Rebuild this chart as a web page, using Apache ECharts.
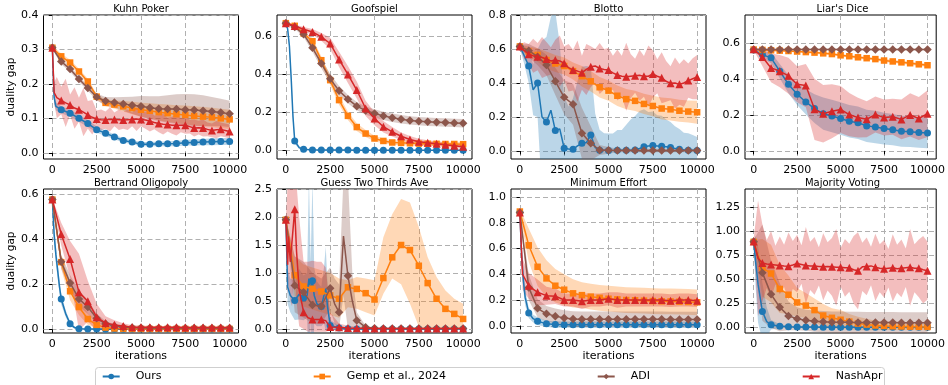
<!DOCTYPE html>
<html>
<head>
<meta charset="utf-8">
<script src="https://cdn.jsdelivr.net/npm/echarts@6/dist/echarts.min.js"></script>
<style>
  html, body { margin: 0; padding: 0; background: #fff; }
  #chart { width: 948px; height: 385px; }
</style>
</head>
<body>
<div id="chart"></div>
<script>
// ---- iteration grids ----
const ITER = [0,500,1000,1500,2000,2500,3000,3500,4000,4500,5000,5500,6000,6500,7000,7500,8000,8500,9000,9500,10000];
const X250 = [0,250,500,750,1000,1250,1500,1750,2000,2250,2500,2750,3000,3250,3500,3750,4000,4250,4500,4750,5000,5250,5500,5750,6000,6250,6500,6750,7000,7250,7500,7750,8000,8250,8500,8750,9000,9250,9500,9750,10000];

const TITLES = ['Kuhn Poker', 'Goofspiel', 'Blotto', "Liar's Dice", 'Bertrand Oligopoly', 'Guess Two Thirds Ave', 'Minimum Effort', 'Majority Voting'];
const SERIES_NAMES = ['Ours', 'Gemp et al., 2024', 'ADI', 'NashApr'];
const X_TICKS = [0, 2500, 5000, 7500, 10000];
const Y_TICKS = [
  [0, 0.1, 0.2, 0.3, 0.4],
  [0, 0.2, 0.4, 0.6],
  [0, 0.2, 0.4, 0.6, 0.8],
  [0, 0.2, 0.4, 0.6],
  [0, 0.2, 0.4, 0.6],
  [0, 0.5, 1.0, 1.5, 2.0, 2.5],
  [0, 0.2, 0.4, 0.6, 0.8, 1.0],
  [0, 0.25, 0.5, 0.75, 1.0, 1.25]
];
const Y_DECIMALS = [1, 1, 1, 1, 1, 1, 1, 2];

// ---- Kuhn Poker ----
const KUHN_OURS_X = [0, 100, 200].concat(ITER.slice(1));
const kuhnOurs   = [0.305,0.16,0.135,0.125,0.115,0.1,0.085,0.067,0.057,0.046,0.036,0.031,0.025,0.025,0.026,0.026,0.027,0.029,0.03,0.031,0.032,0.033,0.033];
const kuhnOursSd = [0.003,0.02,0.012,0.01,0.01,0.01,0.01,0.009,0.008,0.007,0.006,0.006,0.006,0.006,0.007,0.007,0.008,0.008,0.009,0.009,0.01,0.01,0.01];
const kuhnGemp   = [0.305,0.28,0.262,0.236,0.207,0.163,0.145,0.14,0.135,0.13,0.125,0.122,0.118,0.115,0.112,0.11,0.107,0.105,0.103,0.1,0.097];
const kuhnGempSd = [0.005,0.008,0.008,0.008,0.008,0.008,0.01,0.012,0.015,0.018,0.02,0.022,0.024,0.025,0.026,0.027,0.028,0.028,0.028,0.028,0.028];
const kuhnAdi    = [0.305,0.265,0.243,0.214,0.188,0.162,0.15,0.146,0.142,0.138,0.135,0.131,0.128,0.127,0.127,0.125,0.124,0.122,0.12,0.117,0.113];
const kuhnAdiSd  = [0.005,0.008,0.008,0.008,0.008,0.01,0.012,0.015,0.02,0.025,0.03,0.033,0.036,0.04,0.043,0.046,0.046,0.045,0.042,0.04,0.038];
const KUHN_NASH_X = [0, 100].concat(X250.slice(1));
const kuhnNash   = [0.305,0.175,0.16,0.152,0.145,0.139,0.13,0.125,0.118,0.11,0.103,0.098,0.096,0.095,0.097,0.097,0.096,0.095,0.096,0.097,0.098,0.097,0.095,0.092,0.088,0.085,0.083,0.082,0.08,0.08,0.08,0.08,0.076,0.072,0.073,0.072,0.068,0.065,0.067,0.068,0.065,0.062];
const kuhnNashSd = [0.003,0.03,0.06,0.04,0.07,0.03,0.06,0.035,0.07,0.04,0.05,0.025,0.03,0.025,0.035,0.02,0.03,0.025,0.03,0.02,0.035,0.02,0.025,0.03,0.02,0.025,0.03,0.02,0.025,0.03,0.02,0.025,0.02,0.025,0.02,0.025,0.02,0.02,0.025,0.02,0.02,0.02];

// ---- Goofspiel ----
const GOOF_OURS_X = [0, 100, 200, 300, 400, 500, 750, 1000].concat(ITER.slice(3));
const goofOurs   = [0.67,0.64,0.55,0.38,0.18,0.05,0.015,0.006,0.003,0.002,0.002,0.002,0.002,0.001,0.001,0.001,0.001,0.001,0.001,0.001,0.001,0.001,0.001,0.001,0.001,0.001];
const goofOursSd = [0.005,0.01,0.02,0.03,0.03,0.015,0.008,0.004,0.002,0.002,0.002,0.002,0.002,0.002,0.002,0.002,0.002,0.002,0.002,0.002,0.002,0.002,0.002,0.002,0.002,0.002];
const goofGemp   = [0.67,0.656,0.616,0.575,0.475,0.37,0.265,0.182,0.123,0.089,0.063,0.05,0.042,0.04,0.038,0.036,0.035,0.035,0.034,0.034,0.033];
const goofGempSd = [0.005,0.008,0.012,0.015,0.02,0.025,0.025,0.022,0.02,0.018,0.015,0.013,0.012,0.012,0.012,0.012,0.012,0.012,0.012,0.012,0.012];
const goofAdi    = [0.67,0.65,0.612,0.54,0.458,0.377,0.314,0.27,0.233,0.21,0.195,0.182,0.172,0.164,0.158,0.154,0.151,0.149,0.147,0.145,0.143];
const goofAdiSd  = [0.005,0.01,0.015,0.02,0.025,0.025,0.025,0.022,0.022,0.022,0.022,0.022,0.022,0.022,0.022,0.022,0.022,0.022,0.022,0.022,0.022];
const goofNash   = [0.67,0.655,0.638,0.624,0.598,0.563,0.479,0.4,0.318,0.221,0.168,0.125,0.098,0.075,0.058,0.046,0.04,0.035,0.03,0.025,0.02];
const goofNashSd = [0.005,0.008,0.012,0.015,0.02,0.03,0.04,0.045,0.045,0.04,0.035,0.03,0.025,0.02,0.018,0.015,0.014,0.013,0.012,0.012,0.012];

// ---- Blotto ----
const blotOurs   = [0.615,0.56,0.5,0.36,0.4,0.2,0.17,0.24,0.12,0.13,0.016,0.012,0.01,0.03,0.045,0.05,0.094,0.02,0.005,0.004,0.003,0.003,0.004,0.004,0.005,0.005,0.006,0.015,0.025,0.03,0.032,0.03,0.028,0.025,0.02,0.015,0.01,0.007,0.005,0.004,0.003];
const blotOursSd = [0.01,0.05,0.1,0.15,0.2,0.45,0.5,0.55,0.7,0.5,0.3,0.25,0.3,0.38,0.45,0.45,0.4,0.2,0.12,0.1,0.1,0.1,0.12,0.12,0.15,0.18,0.2,0.22,0.22,0.2,0.2,0.18,0.18,0.16,0.15,0.13,0.12,0.1,0.1,0.09,0.08];
const blotGemp   = [0.615,0.585,0.565,0.535,0.515,0.5,0.47,0.44,0.41,0.375,0.355,0.325,0.305,0.295,0.277,0.265,0.25,0.245,0.237,0.232,0.228];
const blotGempSd = [0.01,0.03,0.04,0.05,0.05,0.05,0.05,0.06,0.06,0.06,0.06,0.06,0.06,0.06,0.06,0.06,0.065,0.065,0.065,0.065,0.068];
const blotAdi    = [0.615,0.59,0.555,0.506,0.41,0.316,0.275,0.104,0.045,0.006,0.004,0.003,0.003,0.003,0.003,0.003,0.003,0.003,0.003,0.003,0.003];
const blotAdiSd  = [0.01,0.04,0.05,0.06,0.08,0.1,0.12,0.15,0.1,0.03,0.02,0.01,0.01,0.01,0.01,0.01,0.01,0.01,0.01,0.01,0.01];
const blotNash   = [0.615,0.59,0.569,0.56,0.555,0.55,0.541,0.53,0.535,0.53,0.516,0.49,0.476,0.47,0.461,0.48,0.496,0.5,0.486,0.48,0.476,0.46,0.447,0.44,0.437,0.44,0.443,0.445,0.439,0.44,0.453,0.44,0.431,0.41,0.398,0.4,0.392,0.4,0.414,0.425,0.435];
const blotNashSd = [0.01,0.05,0.06,0.1,0.08,0.12,0.1,0.08,0.12,0.15,0.1,0.14,0.12,0.18,0.1,0.15,0.12,0.1,0.15,0.12,0.13,0.1,0.15,0.12,0.2,0.13,0.1,0.15,0.12,0.18,0.14,0.1,0.15,0.12,0.1,0.15,0.12,0.14,0.1,0.12,0.13];

// ---- Liar's Dice ----
const liarOurs   = [0.56,0.535,0.517,0.443,0.37,0.315,0.272,0.235,0.207,0.194,0.18,0.165,0.156,0.139,0.133,0.124,0.118,0.109,0.106,0.102,0.1];
const liarOursSd = [0.005,0.02,0.03,0.04,0.05,0.06,0.07,0.08,0.09,0.09,0.09,0.09,0.09,0.09,0.09,0.088,0.087,0.086,0.085,0.085,0.085];
const liarGemp   = [0.563,0.561,0.559,0.557,0.555,0.552,0.549,0.546,0.542,0.538,0.531,0.526,0.52,0.515,0.51,0.502,0.497,0.492,0.487,0.481,0.476];
const liarGempSd = [0.003,0.004,0.005,0.005,0.006,0.006,0.006,0.007,0.007,0.007,0.007,0.008,0.008,0.008,0.008,0.008,0.009,0.009,0.009,0.009,0.009];
const liarAdi    = [0.563,0.563,0.563,0.563,0.563,0.563,0.563,0.563,0.563,0.563,0.563,0.563,0.563,0.563,0.563,0.563,0.563,0.563,0.563,0.563,0.563];
const liarAdiSd  = [0.004,0.004,0.004,0.004,0.004,0.004,0.004,0.004,0.004,0.004,0.004,0.004,0.004,0.004,0.004,0.004,0.004,0.004,0.004,0.004,0.004];
const liarNash   = [0.565,0.522,0.461,0.443,0.417,0.37,0.363,0.231,0.206,0.22,0.23,0.202,0.185,0.176,0.202,0.185,0.19,0.175,0.2,0.18,0.207];
const liarNashSd = [0.005,0.05,0.08,0.09,0.1,0.1,0.12,0.17,0.16,0.15,0.13,0.12,0.11,0.1,0.1,0.1,0.1,0.11,0.12,0.12,0.13];

// ---- Bertrand Oligopoly ----
const BERT_OURS_X = [0, 100, 200, 300, 400, 500, 750, 1000, 1250, 1500].concat(ITER.slice(4));
const bertOurs   = [0.575,0.42,0.33,0.26,0.19,0.135,0.07,0.025,0.008,0.003,0.002,0.002,0.001,0.001,0.001,0.001,0.001,0.001,0.001,0.001,0.001,0.001,0.001,0.001,0.001,0.001,0.001];
const bertOursSd = [0.005,0.04,0.04,0.035,0.03,0.025,0.015,0.01,0.005,0.003,0.002,0.002,0.002,0.002,0.002,0.002,0.002,0.002,0.002,0.002,0.002,0.002,0.002,0.002,0.002,0.002,0.002];
const bertGemp   = [0.575,0.298,0.169,0.099,0.046,0.02,0.008,0.004,0.003,0.002,0.002,0.002,0.002,0.002,0.002,0.002,0.002,0.002,0.002,0.002,0.002];
const bertGempSd = [0.005,0.03,0.04,0.035,0.025,0.015,0.008,0.004,0.003,0.002,0.002,0.002,0.002,0.002,0.002,0.002,0.002,0.002,0.002,0.002,0.002];
const bertAdi    = [0.575,0.3,0.206,0.135,0.099,0.049,0.025,0.015,0.01,0.008,0.007,0.006,0.006,0.006,0.006,0.006,0.006,0.006,0.006,0.006,0.006];
const bertAdiSd  = [0.005,0.03,0.035,0.035,0.03,0.02,0.012,0.008,0.006,0.005,0.004,0.004,0.004,0.004,0.004,0.004,0.004,0.004,0.004,0.004,0.004];
const bertNash   = [0.575,0.422,0.312,0.165,0.125,0.054,0.028,0.02,0.015,0.01,0.01,0.009,0.009,0.009,0.009,0.008,0.008,0.008,0.008,0.008,0.008];
const bertNashSd = [0.005,0.05,0.08,0.17,0.09,0.06,0.03,0.02,0.012,0.008,0.007,0.006,0.006,0.006,0.006,0.006,0.006,0.006,0.006,0.006,0.006];

// ---- Guess Two Thirds Ave ----
const GUESS_OURS_X = [0, 100, 250, 500, 750, 1000, 1200, 1300, 1400, 1500, 1600, 1750, 2000, 2150, 2250, 2350, 2500, 3000, 3500].concat(ITER.slice(8));
const guessOurs   = [1.95,0.75,0.6,0.51,0.62,0.556,0.6,0.9,0.7,0.86,0.6,0.45,0.4,0.6,0.72,0.4,0.065,0.02,0.005,0.002,0.002,0.002,0.002,0.002,0.002,0.002,0.002,0.002,0.002,0.002,0.002,0.002];
const guessOursSd = [0.02,0.3,0.3,0.35,0.45,0.4,0.4,1.8,0.5,1.8,0.5,0.4,0.35,0.5,0.75,0.4,0.1,0.03,0.01,0.003,0.003,0.003,0.003,0.003,0.003,0.003,0.003,0.003,0.003,0.003,0.003,0.003];
const guessGemp   = [1.95,0.96,0.76,0.72,0.67,0.6,0.54,0.745,0.716,0.64,0.527,0.91,1.28,1.5,1.41,1.13,0.82,0.54,0.36,0.27,0.18];
const guessGempLo = [1.93,0.6,0.4,0.35,0.3,0.25,0.2,0.39,0.36,0.3,0.24,0.63,0.9,0.8,0.45,0.04,0.0,0.0,0.0,0.02,0.02];
const guessGempHi = [1.97,1.3,1.15,1.1,1.05,1.0,0.9,0.87,0.93,0.9,0.87,1.64,2.05,2.32,2.26,1.82,1.28,0.93,0.69,0.54,0.45];
const GUESS_ADI_X = [0, 500, 1000, 1500, 2000, 2500, 2750, 3000, 3250, 3500, 3750, 4000, 4500].concat(ITER.slice(10));
const guessAdi    = [1.95,0.775,0.657,0.43,0.408,0.728,0.45,0.3,1.66,0.95,0.5,0.154,0.03,0.012,0.009,0.008,0.008,0.008,0.008,0.008,0.008,0.008,0.008,0.008];
const guessAdiLo  = [1.93,0.3,0.2,0.1,0.1,0.35,0.1,0.0,0.6,0.0,0.0,0.02,0.005,0.002,0.002,0.002,0.002,0.002,0.002,0.002,0.002,0.002,0.002,0.002];
const guessAdiHi  = [1.97,1.3,1.2,1.0,0.9,1.1,0.9,0.8,2.7,2.7,1.0,0.3,0.06,0.025,0.015,0.015,0.015,0.015,0.015,0.015,0.015,0.015,0.015,0.015];
const GUESS_NASH_X = [0, 100, 150, 250, 350, 500, 600, 750, 1000, 1250, 1500, 1750, 2000, 2250, 2500].concat(ITER.slice(6));
const guessNash   = [1.95,1.15,1.65,1.2,1.2,2.14,1.4,0.7,0.3,0.2,0.17,0.17,0.17,0.15,0.035,0.03,0.02,0.015,0.01,0.008,0.008,0.008,0.008,0.008,0.008,0.008,0.008,0.008,0.008,0.008];
const guessNashLo = [1.93,0.6,0.8,0.5,0.4,1.1,0.5,0.05,0.0,-0.05,-0.05,-0.05,-0.05,-0.05,-0.02,-0.01,-0.01,-0.005,-0.005,-0.005,-0.005,-0.005,-0.005,-0.005,-0.005,-0.005,-0.005,-0.005,-0.005,-0.005];
const guessNashHi = [1.97,2.6,2.6,2.6,2.6,2.6,2.6,2.0,1.2,1.2,1.22,1.2,1.2,1.1,0.3,0.1,0.06,0.04,0.03,0.02,0.02,0.02,0.02,0.02,0.02,0.02,0.02,0.02,0.02,0.02];

// ---- Minimum Effort ----
const MIN_OURS_X = [0, 100, 200, 300, 500, 750, 1000, 1500, 2000].concat(ITER.slice(5));
const minOurs    = [0.88,0.55,0.35,0.22,0.1,0.055,0.036,0.015,0.01,0.009,0.009,0.009,0.008,0.008,0.008,0.008,0.008,0.008,0.008,0.008,0.008,0.008,0.008,0.008,0.008];
const minOursSd  = [0.01,0.08,0.08,0.06,0.04,0.03,0.03,0.025,0.025,0.025,0.025,0.025,0.025,0.025,0.025,0.025,0.025,0.025,0.025,0.025,0.025,0.025,0.025,0.025,0.025];
const minGemp    = [0.887,0.625,0.458,0.368,0.311,0.28,0.252,0.238,0.226,0.217,0.21,0.205,0.2,0.198,0.195,0.192,0.19,0.189,0.187,0.185,0.182];
const minGempSd  = [0.02,0.13,0.15,0.14,0.13,0.12,0.11,0.1,0.1,0.1,0.1,0.1,0.1,0.1,0.1,0.1,0.1,0.1,0.1,0.1,0.1];
const minAdi     = [0.88,0.298,0.136,0.093,0.075,0.06,0.052,0.05,0.05,0.05,0.05,0.05,0.05,0.05,0.05,0.05,0.05,0.049,0.049,0.049,0.049];
const minAdiSd   = [0.02,0.1,0.07,0.06,0.06,0.06,0.06,0.06,0.06,0.06,0.06,0.06,0.06,0.06,0.06,0.06,0.06,0.06,0.06,0.06,0.06];
const MIN_NASH_X = [0, 150].concat(ITER.slice(1));
const minNash    = [0.88,0.4,0.31,0.26,0.234,0.23,0.2,0.2,0.19,0.2,0.2,0.21,0.2,0.2,0.2,0.2,0.2,0.2,0.195,0.2,0.2,0.195];
const minNashSd  = [0.02,0.12,0.1,0.1,0.07,0.06,0.05,0.05,0.06,0.05,0.05,0.05,0.06,0.05,0.05,0.05,0.05,0.05,0.05,0.05,0.05,0.05];

// ---- Majority Voting ----
const MAJ_OURS_X = [0, 100, 250, 500, 750, 1000].concat(ITER.slice(3));
const majOurs    = [0.89,0.7,0.45,0.165,0.06,0.028,0.012,0.007,0.005,0.004,0.004,0.003,0.003,0.003,0.003,0.003,0.002,0.002,0.002,0.002,0.002,0.002,0.002,0.002];
const majOursSd  = [0.01,0.25,0.4,0.3,0.15,0.05,0.02,0.01,0.01,0.01,0.008,0.008,0.008,0.008,0.008,0.008,0.008,0.008,0.008,0.008,0.008,0.008,0.008,0.008];
const majGemp    = [0.89,0.62,0.561,0.4,0.34,0.26,0.227,0.18,0.124,0.1,0.08,0.06,0.04,0.03,0.02,0.015,0.012,0.01,0.008,0.006,0.005];
const majGempSd  = [0.02,0.3,0.3,0.25,0.2,0.15,0.13,0.12,0.12,0.1,0.1,0.08,0.07,0.06,0.05,0.04,0.04,0.035,0.03,0.03,0.03];
const majAdi     = [0.89,0.57,0.344,0.21,0.12,0.09,0.075,0.065,0.06,0.055,0.055,0.053,0.052,0.051,0.05,0.05,0.05,0.049,0.049,0.048,0.048];
const majAdiSd   = [0.02,0.5,0.35,0.25,0.15,0.12,0.11,0.11,0.11,0.11,0.11,0.11,0.11,0.11,0.11,0.11,0.11,0.11,0.11,0.11,0.11];
const majNash    = [0.895,0.72,0.671,0.66,0.654,0.65,0.645,0.64,0.637,0.65,0.665,0.655,0.645,0.64,0.64,0.635,0.63,0.635,0.63,0.625,0.625,0.62,0.62,0.6,0.59,0.63,0.635,0.64,0.625,0.615,0.61,0.615,0.62,0.61,0.615,0.62,0.625,0.615,0.615,0.6,0.59];
const majNashSd  = [0.03,0.6,0.4,0.25,0.35,0.2,0.3,0.22,0.35,0.25,0.3,0.2,0.4,0.25,0.3,0.2,0.35,0.25,0.3,0.4,0.2,0.3,0.25,0.35,0.4,0.25,0.3,0.2,0.35,0.25,0.3,0.2,0.35,0.25,0.3,0.2,0.4,0.25,0.3,0.35,0.3];

// ---- look ----
const COLORS = ['#1f77b4', '#ff7f0e', '#8c564b', '#d62728'];
const SYMBOLS = ['circle', 'rect', 'diamond', 'triangle'];
const SYMBOL_SIZES = [7, 6.5, 8.5, 8];
const FONT = '"DejaVu Sans", "Liberation Sans", sans-serif';

const COL_LEFT = [43.5, 277, 511, 745];
const ROW_TOP = [15, 189];
const GRID_W = 195, GRID_H = 144;
const Y_RANGE = [[-0.018, 0.4], [-0.045, 0.713], [-0.047, 0.8], [-0.045, 0.755],
                 [-0.016, 0.622], [-0.071, 2.5], [-0.056, 1.062], [-0.058, 1.44]];

function sdBand(mean, sd) {
  return { lo: mean.map((v, i) => v - sd[i]), hi: mean.map((v, i) => v + sd[i]) };
}

// per panel: [x, mean, band] for Ours, Gemp, ADI, NashApr
const PANELS = [
  [[KUHN_OURS_X, kuhnOurs, sdBand(kuhnOurs, kuhnOursSd)], [ITER, kuhnGemp, sdBand(kuhnGemp, kuhnGempSd)],
   [ITER, kuhnAdi, sdBand(kuhnAdi, kuhnAdiSd)], [KUHN_NASH_X, kuhnNash, sdBand(kuhnNash, kuhnNashSd)]],
  [[GOOF_OURS_X, goofOurs, sdBand(goofOurs, goofOursSd)], [ITER, goofGemp, sdBand(goofGemp, goofGempSd)],
   [ITER, goofAdi, sdBand(goofAdi, goofAdiSd)], [ITER, goofNash, sdBand(goofNash, goofNashSd)]],
  [[X250, blotOurs, sdBand(blotOurs, blotOursSd)], [ITER, blotGemp, sdBand(blotGemp, blotGempSd)],
   [ITER, blotAdi, sdBand(blotAdi, blotAdiSd)], [X250, blotNash, sdBand(blotNash, blotNashSd)]],
  [[ITER, liarOurs, sdBand(liarOurs, liarOursSd)], [ITER, liarGemp, sdBand(liarGemp, liarGempSd)],
   [ITER, liarAdi, sdBand(liarAdi, liarAdiSd)], [ITER, liarNash, sdBand(liarNash, liarNashSd)]],
  [[BERT_OURS_X, bertOurs, sdBand(bertOurs, bertOursSd)], [ITER, bertGemp, sdBand(bertGemp, bertGempSd)],
   [ITER, bertAdi, sdBand(bertAdi, bertAdiSd)], [ITER, bertNash, sdBand(bertNash, bertNashSd)]],
  [[GUESS_OURS_X, guessOurs, sdBand(guessOurs, guessOursSd)], [ITER, guessGemp, { lo: guessGempLo, hi: guessGempHi }],
   [GUESS_ADI_X, guessAdi, { lo: guessAdiLo, hi: guessAdiHi }], [GUESS_NASH_X, guessNash, { lo: guessNashLo, hi: guessNashHi }]],
  [[MIN_OURS_X, minOurs, sdBand(minOurs, minOursSd)], [ITER, minGemp, sdBand(minGemp, minGempSd)],
   [ITER, minAdi, sdBand(minAdi, minAdiSd)], [MIN_NASH_X, minNash, sdBand(minNash, minNashSd)]],
  [[MAJ_OURS_X, majOurs, sdBand(majOurs, majOursSd)], [ITER, majGemp, sdBand(majGemp, majGempSd)],
   [ITER, majAdi, sdBand(majAdi, majAdiSd)], [X250, majNash, sdBand(majNash, majNashSd)]]
];

const grids = [], xAxes = [], yAxes = [], series = [], graphics = [];
const splitStyle = { show: true, lineStyle: { color: '#b0b0b0', width: 1, type: [5, 3] } };

PANELS.forEach((panel, gi) => {
  const col = gi % 4, row = Math.floor(gi / 4);
  grids.push({
    left: COL_LEFT[col], top: ROW_TOP[row], width: GRID_W, height: GRID_H,
    show: true, borderColor: '#000', borderWidth: 1, backgroundColor: 'transparent'
  });
  xAxes.push({
    type: 'value', gridIndex: gi, min: -500, max: 10500,
    axisLine: { show: false },
    axisTick: { show: true, customValues: X_TICKS, length: 3.5, lineStyle: { color: '#000' } },
    axisLabel: { customValues: X_TICKS, color: '#000', fontSize: 11, fontFamily: FONT, margin: 6,
                 formatter: v => String(v) },
    splitLine: splitStyle,
    name: row === 1 ? 'iterations' : '', nameLocation: 'middle', nameGap: 18,
    nameTextStyle: { color: '#000', fontSize: 11, fontFamily: FONT }
  });
  const dec = Y_DECIMALS[gi];
  yAxes.push({
    type: 'value', gridIndex: gi, min: Y_RANGE[gi][0], max: Y_RANGE[gi][1],
    axisLine: { show: false },
    axisTick: { show: true, customValues: Y_TICKS[gi], length: 3.5, lineStyle: { color: '#000' } },
    axisLabel: { customValues: Y_TICKS[gi], color: '#000', fontSize: 11, fontFamily: FONT, margin: 5,
                 formatter: v => Number(v).toFixed(dec) },
    splitLine: splitStyle,
    name: col === 0 ? 'duality gap' : '', nameLocation: 'middle', nameGap: 26,
    nameTextStyle: { color: '#000', fontSize: 10.5, fontFamily: FONT }
  });
  graphics.push({
    type: 'text', x: COL_LEFT[col] + GRID_W / 2, y: ROW_TOP[row] - 6,
    style: { text: TITLES[gi], fill: '#000', font: '10px ' + FONT, align: 'center', verticalAlign: 'middle' }
  });

  // shaded spread bands first, then the mean lines on top
  panel.forEach((s, si) => {
    const xs = s[0], band = s[2];
    series.push({
      type: 'custom', xAxisIndex: gi, yAxisIndex: gi, clip: true, silent: true, z: 1,
      data: [[xs[0], band.lo[0]]],
      renderItem: (params, api) => {
        const pts = [];
        for (let k = 0; k < xs.length; k++) pts.push(api.coord([xs[k], band.hi[k]]));
        for (let k = xs.length - 1; k >= 0; k--) pts.push(api.coord([xs[k], band.lo[k]]));
        return { type: 'polygon', shape: { points: pts }, style: { fill: COLORS[si], opacity: 0.3 } };
      }
    });
  });
  panel.forEach((s, si) => {
    const xs = s[0], ys = s[1];
    series.push({
      type: 'line', name: SERIES_NAMES[si], xAxisIndex: gi, yAxisIndex: gi,
      data: xs.map((x, k) => [x, ys[k]]),
      symbol: SYMBOLS[si],
      symbolSize: v => (v[0] % 500 === 0 ? SYMBOL_SIZES[si] : 0),
      showSymbol: true, showAllSymbol: true, clip: true, z: 3 + si,
      lineStyle: { color: COLORS[si], width: 1.5 },
      itemStyle: { color: COLORS[si], borderWidth: 0 },
      emphasis: { disabled: true }
    });
  });
});

// legend frame
graphics.push({
  type: 'rect', z: 0,
  shape: { x: 95.5, y: 367.5, width: 789, height: 24, r: 3 },
  style: { fill: '#fff', stroke: '#cfcfcf', lineWidth: 1 }
});

const LEGEND_LEFT = [101.7, 312.7, 596.7, 801.7];
const legends = SERIES_NAMES.map((nm, i) => ({
  data: [nm], left: LEGEND_LEFT[i], top: 371, padding: 0, z: 10,
  itemWidth: 17, itemHeight: 7,
  textStyle: { color: '#000', fontSize: 11, fontFamily: FONT, padding: [0, 0, 0, 11] }
}));

const chart = echarts.init(document.getElementById('chart'), null, { renderer: 'canvas' });
chart.setOption({
  animation: false,
  backgroundColor: '#fff',
  grid: grids, xAxis: xAxes, yAxis: yAxes,
  legend: legends,
  graphic: graphics,
  series: series
});
</script>
</body>
</html>
